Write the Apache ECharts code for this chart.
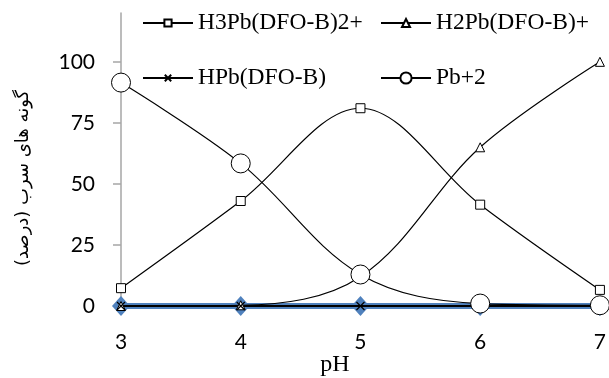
<!DOCTYPE html>
<html>
<head>
<meta charset="utf-8">
<script src="https://cdn.jsdelivr.net/npm/echarts@6/dist/echarts.min.js"></script>
<style>
html,body{margin:0;padding:0;background:#fff;}
#chart{width:609px;height:378px;}
</style>
</head>
<body>
<div id="chart"></div>
<script>
const phValues = [3, 4, 5, 6, 7];
const h3Values = [7.3, 43, 81, 41.5, 6.6];
const h2Values = [0, 0.3, 12, 65, 100];
const hpbValues = [0, 0, 0, 0, 0];
const pbValues = [91.5, 58.4, 12.9, 1, 0.3];
const blueValues = [0, 0, 0, 0, 0];
const yTickValues = [0, 25, 50, 75, 100];
const xTickValues = [3, 4, 5, 6, 7];
const seriesNames = ['H3Pb(DFO-B)2+', 'H2Pb(DFO-B)+', 'HPb(DFO-B)', 'Pb+2'];
const yAxisTitle = 'گونه های سرب (درصد)';
const xAxisTitle = 'pH';

const pairs = vals => phValues.map((x, i) => [x, vals[i]]);

const chart = echarts.init(document.getElementById('chart'), null, {renderer: 'canvas'});
const lineBase = {type: 'line', smooth: 0.35, lineStyle: {color: '#000', width: 1.2}, itemStyle: {color: '#fff', borderColor: '#000', borderWidth: 1}, emphasis: {disabled: true}};
const legendBase = {padding: 0, itemWidth: 50, textStyle: {fontFamily: 'Liberation Serif', fontSize: 23.5, color: '#000'}, selectedMode: false};

chart.setOption({
  animation: false,
  grid: {left: 121, right: 4, top: 13, bottom: 72},
  legend: [
    Object.assign({}, legendBase, {data: [seriesNames[0]], left: 142, top: 11, itemHeight: 9}),
    Object.assign({}, legendBase, {data: [seriesNames[1]], left: 380, top: 11, itemHeight: 10}),
    Object.assign({}, legendBase, {data: [seriesNames[2]], left: 142, top: 66, itemHeight: 8}),
    Object.assign({}, legendBase, {data: [seriesNames[3]], left: 380, top: 66, itemHeight: 14})
  ],
  xAxis: {
    type: 'value', min: 3, max: 7, interval: 1,
    axisLine: {show: true, lineStyle: {color: '#a6a6a6', width: 1.5}},
    axisTick: {show: false},
    splitLine: {show: false},
    axisLabel: {margin: 26, fontFamily: 'Lato', fontSize: 21, color: '#000', customValues: xTickValues}
  },
  yAxis: {
    type: 'value', min: 0, max: 120, interval: 25,
    axisLine: {show: true, lineStyle: {color: '#a6a6a6', width: 1.5}},
    axisTick: {show: true, length: 8, inside: false, lineStyle: {color: '#a6a6a6', width: 1.5}, customValues: yTickValues},
    splitLine: {show: false},
    axisLabel: {margin: 26, fontFamily: 'Lato', fontSize: 21, color: '#000', customValues: yTickValues,
      formatter: v => (v > 100 ? '' : String(v))}
  },
  graphic: [
    {type: 'text', x: 23, y: 178, rotation: Math.PI / 2,
      style: {text: yAxisTitle, font: '18px "DejaVu Sans"', fill: '#000', align: 'center', verticalAlign: 'middle'}},
    {type: 'text', x: 335, y: 365,
      style: {text: xAxisTitle, font: '24px "Liberation Serif"', fill: '#000', align: 'center', verticalAlign: 'middle'}}
  ],
  series: [
    {type: 'line', name: 'blue', data: pairs(blueValues), symbol: 'diamond', symbolSize: [18, 20], z: 1,
      lineStyle: {color: '#4f81bd', width: 6}, itemStyle: {color: '#4f81bd'}, emphasis: {disabled: true}},
    Object.assign({}, lineBase, {name: seriesNames[0], data: pairs(h3Values), symbol: 'rect', symbolSize: 9, z: 3}),
    Object.assign({}, lineBase, {name: seriesNames[1], data: pairs(h2Values), symbol: 'triangle', symbolSize: 9, z: 3}),
    Object.assign({}, lineBase, {name: seriesNames[2], data: pairs(hpbValues), symbol: 'path://M0,0L10,10M10,0L0,10', symbolSize: 8, z: 3,
      lineStyle: {color: '#000', width: 2}, itemStyle: {color: '#fff', borderColor: '#000', borderWidth: 1.2}}),
    Object.assign({}, lineBase, {name: seriesNames[3], data: pairs(pbValues), symbol: 'circle', symbolSize: 19, z: 4})
  ]
});
</script>
</body>
</html>
